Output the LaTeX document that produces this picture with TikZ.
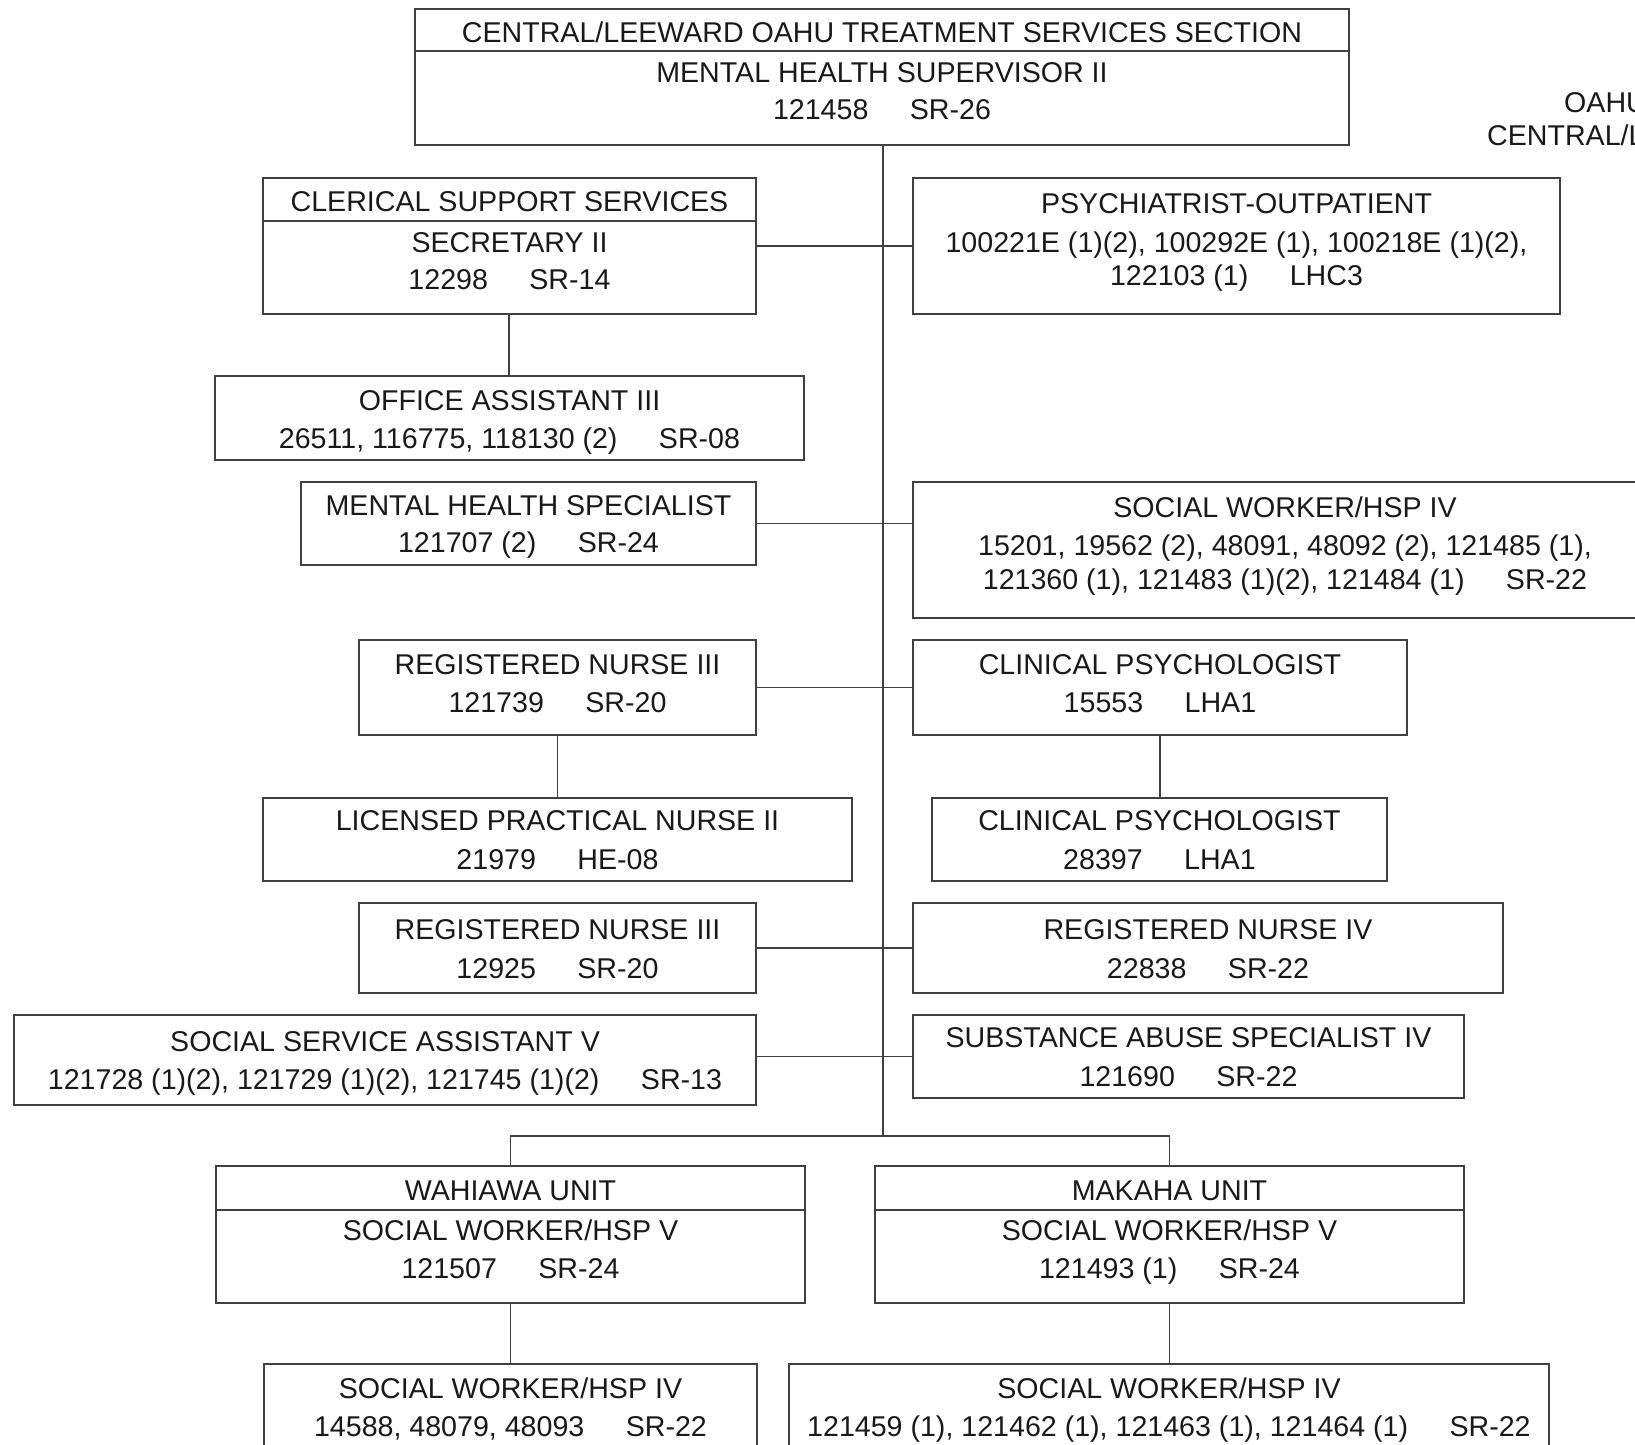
\documentclass[tikz,border=0pt]{standalone}
\usepackage{fontspec}
\setmainfont{Liberation Sans}
\newcommand\bx[5]{\node[box, minimum width={(#4-#2)*1pt}, minimum height={(#5-#3)*1pt}] (#1) at ({(#2+#4)/2},{(#3+#5)/2}) {};}
\newcommand\tx[4]{\node[txt] (#1) at (#2,#3) {#4};}
\newcommand\gp{\hspace{1.45em}}
\begin{document}
\begin{tikzpicture}[x=1pt,y=-1pt,
 box/.style={draw=black!75, line width=1.3pt, rectangle, inner sep=0pt},
 txt/.style={inner sep=0pt, text height=0.72em, text depth=0pt, yshift=-7pt, font=\fontsize{28.6}{34}\selectfont, text=black!90},
 ln/.style={draw=black!75, line width=1.3pt}]
\useasboundingbox (0,0) rectangle (1635,1445);
\clip (0,0) rectangle (1635,1445);
\fill[white] (0,0) rectangle (1635,1445);

% boxes
\bx{top}{415}{9}{1349}{145}
\bx{cler}{263}{178}{756}{314}
\bx{psych}{913}{178}{1560}{314}
\bx{office}{215}{376}{804}{460}
\bx{mhs}{301}{482}{756}{565}
\bx{swiv}{913}{482}{1657}{618}
\bx{rna}{359}{640}{756}{735}
\bx{cpa}{913}{640}{1407}{735}
\bx{lpn}{263}{798}{852}{881}
\bx{cpb}{932}{798}{1387}{881}
\bx{rnb}{359}{903}{756}{993}
\bx{rniv}{913}{903}{1503}{993}
\bx{ssa}{14}{1015}{756}{1105}
\bx{sas}{913}{1015}{1464}{1098}
\bx{wah}{216}{1166}{805}{1303}
\bx{mak}{875}{1166}{1464}{1303}
\bx{swbl}{264}{1364}{757}{1520}
\bx{swbr}{789}{1364}{1549}{1520}

% dividers
\draw[ln] (top.west |- 0,51) -- (top.east |- 0,51);
\draw[ln] (cler.west |- 0,221) -- (cler.east |- 0,221);
\draw[ln] (wah.west |- 0,1210) -- (wah.east |- 0,1210);
\draw[ln] (mak.west |- 0,1210) -- (mak.east |- 0,1210);

% texts
\tx{t1}{882}{32}{CENTRAL/LEEWARD OAHU TREATMENT SERVICES SECTION}
\tx{t2}{882}{72}{MENTAL HEALTH SUPERVISOR II}
\tx{t3}{882}{109}{121458\gp SR-26}
\tx{c1}{509.5}{201}{CLERICAL SUPPORT SERVICES}
\tx{c2}{509.5}{242}{SECRETARY II}
\tx{c3}{509.5}{279}{12298\gp SR-14}
\tx{p1}{1236.5}{203}{PSYCHIATRIST-OUTPATIENT}
\tx{p2}{1236.5}{242}{100221E (1)(2), 100292E (1), 100218E (1)(2),}
\tx{p3}{1236.5}{275}{122103 (1)\gp LHC3}
\tx{o1}{509.5}{400}{OFFICE ASSISTANT III}
\tx{o2}{509.5}{438}{26511, 116775, 118130 (2)\gp SR-08}
\tx{m1}{528.5}{505}{MENTAL HEALTH SPECIALIST}
\tx{m2}{528.5}{542}{121707 (2)\gp SR-24}
\tx{s1}{1285}{507}{SOCIAL WORKER/HSP IV}
\tx{s2}{1285}{545}{15201, 19562 (2), 48091, 48092 (2), 121485 (1),}
\tx{s3}{1285}{579}{121360 (1), 121483 (1)(2), 121484 (1)\gp SR-22}
\tx{ra1}{557.5}{664}{REGISTERED NURSE III}
\tx{ra2}{557.5}{702}{121739\gp SR-20}
\tx{ca1}{1160}{664}{CLINICAL PSYCHOLOGIST}
\tx{ca2}{1160}{702}{15553\gp LHA1}
\tx{l1}{557.5}{820}{LICENSED PRACTICAL NURSE II}
\tx{l2}{557.5}{859}{21979\gp HE-08}
\tx{cb1}{1159.5}{820}{CLINICAL PSYCHOLOGIST}
\tx{cb2}{1159.5}{859}{28397\gp LHA1}
\tx{rb1}{557.5}{929}{REGISTERED NURSE III}
\tx{rb2}{557.5}{968}{12925\gp SR-20}
\tx{r41}{1208}{929}{REGISTERED NURSE IV}
\tx{r42}{1208}{968}{22838\gp SR-22}
\tx{sa1}{385}{1041}{SOCIAL SERVICE ASSISTANT V}
\tx{sa2}{385}{1079}{121728 (1)(2), 121729 (1)(2), 121745 (1)(2)\gp SR-13}
\tx{sb1}{1188.5}{1037}{SUBSTANCE ABUSE SPECIALIST IV}
\tx{sb2}{1188.5}{1076}{121690\gp SR-22}
\tx{w1}{510.5}{1190}{WAHIAWA UNIT}
\tx{w2}{510.5}{1230}{SOCIAL WORKER/HSP V}
\tx{w3}{510.5}{1268}{121507\gp SR-24}
\tx{k1}{1169.5}{1190}{MAKAHA UNIT}
\tx{k2}{1169.5}{1230}{SOCIAL WORKER/HSP V}
\tx{k3}{1169.5}{1268}{121493 (1)\gp SR-24}
\tx{bl1}{510.5}{1388}{SOCIAL WORKER/HSP IV}
\tx{bl2}{510.5}{1426}{14588, 48079, 48093\gp SR-22}
\tx{br1}{1169}{1388}{SOCIAL WORKER/HSP IV}
\tx{br2}{1169}{1426}{121459 (1), 121462 (1), 121463 (1), 121464 (1)\gp SR-22}
\node[txt, anchor=west] (oahu1) at (1564,102) {OAHU};
\node[txt, anchor=west] (oahu2) at (1487,135) {CENTRAL/LEEWARD};

% connectors
\coordinate (bus) at (883,1136);
\draw[ln] (top.south -| bus) -- (bus);
\draw[ln] (cler) -- (psych);
\draw[ln] (mhs.east) -- (mhs.east -| swiv.west);
\draw[ln] (rna) -- (cpa);
\draw[ln] (rnb) -- (rniv);
\draw[ln] (ssa.east |- sas.west) -- (sas.west);
\draw[ln] (wah.north) |- (bus) -| (mak.north);
\draw[ln] (cler.south -| 509,0) -- (office.north -| 509,0);
\draw[ln] (rna.south) -- (lpn.north -| rna.south);
\draw[ln] (cpa.south) -- (cpb.north -| cpa.south);
\draw[ln] (wah.south) -- (swbl.north -| wah.south);
\draw[ln] (mak.south) -- (swbr.north -| mak.south);
\end{tikzpicture}
\end{document}
